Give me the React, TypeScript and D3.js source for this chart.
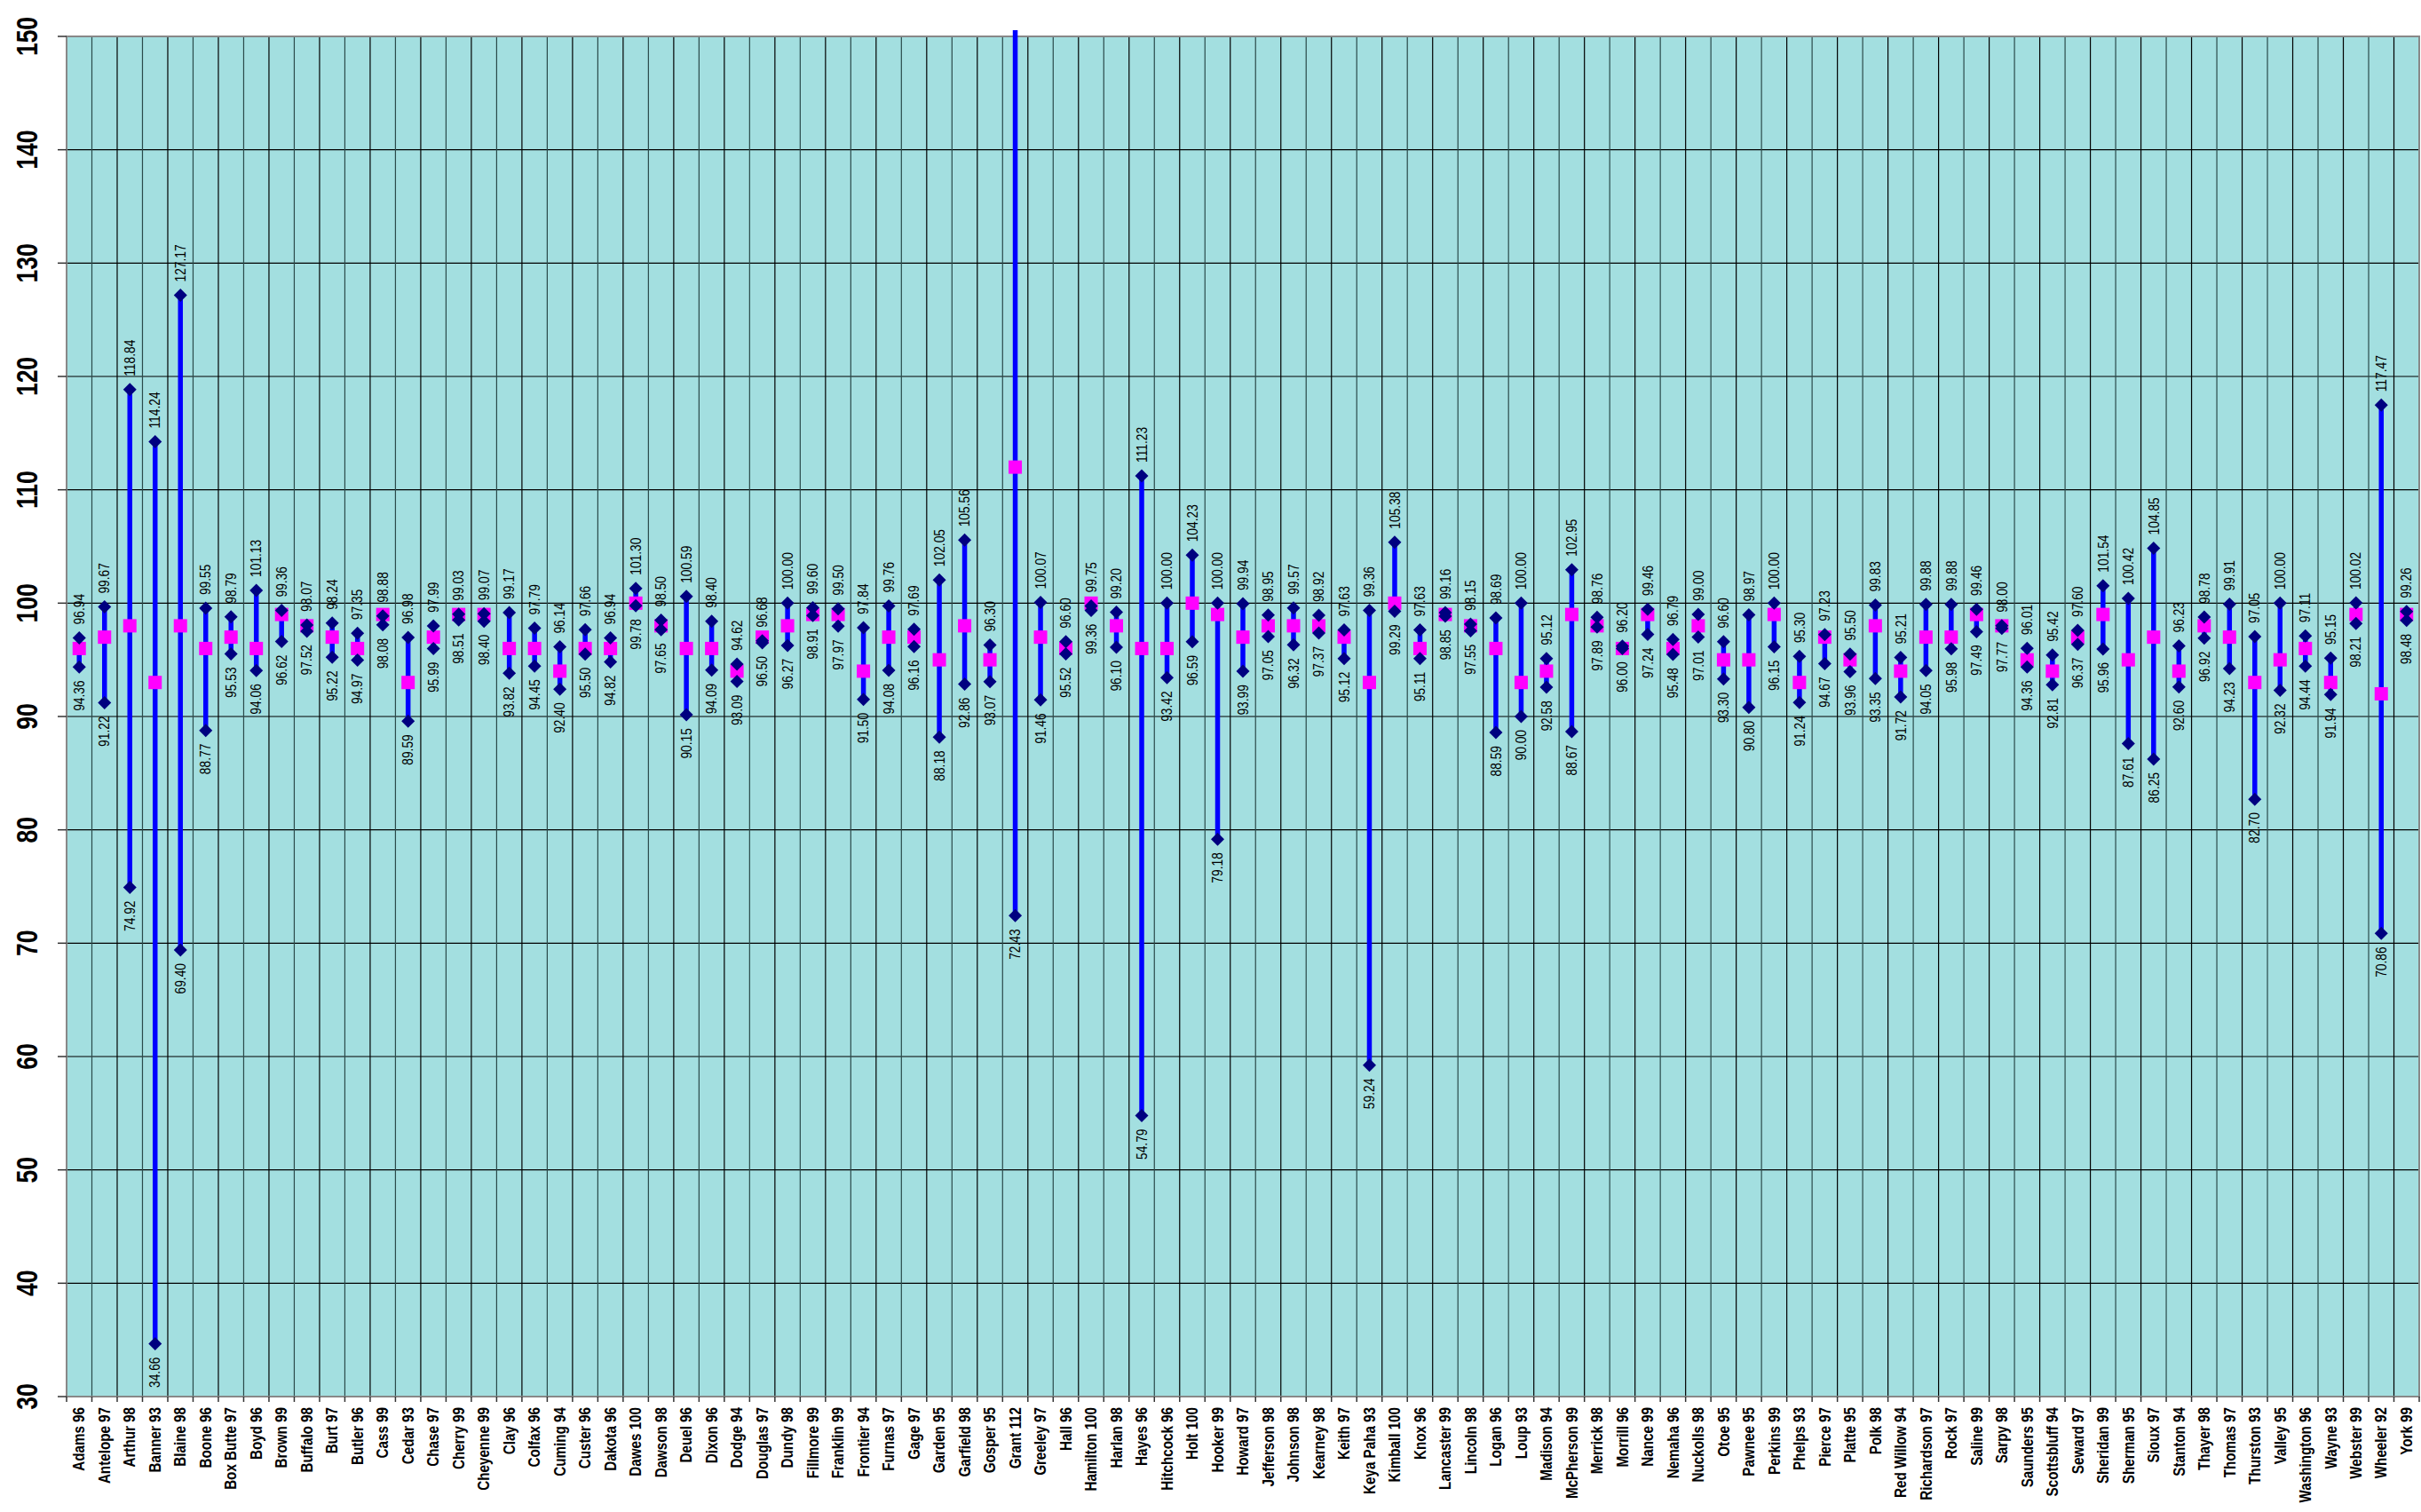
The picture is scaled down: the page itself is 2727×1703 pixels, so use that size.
import React from "react";
import * as d3 from "d3";

const counties = ["Adams","Antelope","Arthur","Banner","Blaine","Boone","Box Butte","Boyd","Brown","Buffalo","Burt","Butler","Cass","Cedar","Chase","Cherry","Cheyenne","Clay","Colfax","Cuming","Custer","Dakota","Dawes","Dawson","Deuel","Dixon","Dodge","Douglas","Dundy","Fillmore","Franklin","Frontier","Furnas","Gage","Garden","Garfield","Gosper","Grant","Greeley","Hall","Hamilton","Harlan","Hayes","Hitchcock","Holt","Hooker","Howard","Jefferson","Johnson","Kearney","Keith","Keya Paha","Kimball","Knox","Lancaster","Lincoln","Logan","Loup","Madison","McPherson","Merrick","Morrill","Nance","Nemaha","Nuckolls","Otoe","Pawnee","Perkins","Phelps","Pierce","Platte","Polk","Red Willow","Richardson","Rock","Saline","Sarpy","Saunders","Scottsbluff","Seward","Sheridan","Sherman","Sioux","Stanton","Thayer","Thomas","Thurston","Valley","Washington","Wayne","Webster","Wheeler","York"];

const meanValues = [96,97,98,93,98,96,97,96,99,98,97,96,99,93,97,99,99,96,96,94,96,96,100,98,96,96,94,97,98,99,99,94,97,97,95,98,95,112,97,96,100,98,96,96,100,99,97,98,98,98,97,93,100,96,99,98,96,93,94,99,98,96,99,96,98,95,95,99,93,97,95,98,94,97,97,99,98,95,94,97,99,95,97,94,98,97,93,95,96,93,99,92,99];

const highValues = [96.94,99.67,118.84,114.24,127.17,99.55,98.79,101.13,99.36,98.07,98.24,97.35,98.88,96.98,97.99,99.03,99.07,99.17,97.79,96.14,97.66,96.94,101.30,98.50,100.59,98.40,94.62,96.68,100.00,99.60,99.50,97.84,99.76,97.69,102.05,105.56,96.30,160.00,100.07,96.60,99.75,99.20,111.23,100.00,104.23,100.00,99.94,98.95,99.57,98.92,97.63,99.36,105.38,97.63,99.16,98.15,98.69,100.00,95.12,102.95,98.76,96.20,99.46,96.79,99.00,96.60,98.97,100.00,95.30,97.23,95.50,99.83,95.21,99.88,99.88,99.46,98.00,96.01,95.42,97.60,101.54,100.42,104.85,96.23,98.78,99.91,97.05,100.00,97.11,95.15,100.02,117.47,99.26];

const lowValues = [94.36,91.22,74.92,34.66,69.40,88.77,95.53,94.06,96.62,97.52,95.22,94.97,98.08,89.59,95.99,98.51,98.40,93.82,94.45,92.40,95.50,94.82,99.78,97.65,90.15,94.09,93.09,96.50,96.27,98.91,97.97,91.50,94.08,96.16,88.18,92.86,93.07,72.43,91.46,95.52,99.36,96.10,54.79,93.42,96.59,79.18,93.99,97.05,96.32,97.37,95.12,59.24,99.29,95.11,98.85,97.55,88.59,90.00,92.58,88.67,97.89,96.00,97.24,95.48,97.01,93.30,90.80,96.15,91.24,94.67,93.96,93.35,91.72,94.05,95.98,97.49,97.77,94.36,92.81,96.37,95.96,87.61,86.25,92.60,96.92,94.23,82.70,92.32,94.44,91.94,98.21,70.86,98.48];

const yTicks = [30, 40, 50, 60, 70, 80, 90, 100, 110, 120, 130, 140, 150];

const W = 2727;
const H = 1703;
const left = 75;
const right = 2725;
const top = 41;
const bottom = 1573;
const FONT = "'Liberation Sans', Arial, Helvetica, sans-serif";

export default function App() {
  const labels = counties.map((c, i) => `${c} ${meanValues[i]}`);
  const x = d3.scaleBand<string>().domain(labels).range([left, right]).padding(0);
  const y = d3.scaleLinear().domain([30, 150]).range([bottom, top]);
  const bw = x.bandwidth();
  const boundaries = d3.range(labels.length + 1).map((i) => left + i * bw);
  const diamond = (cx: number, cy: number, r: number) =>
    `M${cx},${cy - r}L${cx + r},${cy}L${cx},${cy + r}L${cx - r},${cy}Z`;

  return (
    <svg width={W} height={H} style={{ position: "absolute", left: 0, top: 0, background: "#fff" }}>
      <defs>
        <clipPath id="plotclip">
          <rect x={0} y={34} width={W} height={H} />
        </clipPath>
      </defs>
      <rect x={left} y={top} width={right - left} height={bottom - top} fill="#A3DFE0" />
      {yTicks.map((t) => (
        <line key={"h" + t} x1={left} x2={right} y1={y(t)} y2={y(t)} stroke="#000" strokeWidth={1.2} />
      ))}
      {boundaries.map((b, i) => (
        <line key={"v" + i} x1={b} x2={b} y1={top} y2={bottom} stroke={i % 2 ? "#2a4a4a" : "#000"} strokeWidth={1.2} />
      ))}
      <rect x={left} y={top} width={right - left} height={bottom - top} fill="none" stroke="#888" strokeWidth={2} />
      {yTicks.map((t) => (
        <g key={"yt" + t}>
          <line x1={65} x2={left} y1={y(t)} y2={y(t)} stroke="#333" strokeWidth={1.5} />
          <text
            transform={`translate(42,${y(t)}) rotate(-90) scale(1,1.27)`}
            textAnchor="middle"
            fontFamily={FONT}
            fontWeight="bold"
            fontSize={26.5}
            fill="#000"
          >
            {t}
          </text>
        </g>
      ))}
      {boundaries.map((b, i) => (
        <line key={"bt" + i} x1={b} x2={b} y1={bottom} y2={bottom + 6} stroke="#333" strokeWidth={1.5} />
      ))}
      {labels.map((l) => (
        <text
          key={"cl" + l}
          transform={`translate(${(x(l) as number) + bw / 2},1585) rotate(-90) scale(1,1.17)`}
          textAnchor="end"
          dy="0.35em"
          fontFamily={FONT}
          fontWeight="bold"
          fontSize={15.2}
          fill="#000"
        >
          {l}
        </text>
      ))}
      <g clipPath="url(#plotclip)">
        {labels.map((l, i) => {
          const cx = (x(l) as number) + bw / 2;
          return (
            <line key={"r" + i} x1={cx} x2={cx} y1={y(highValues[i])} y2={y(lowValues[i])} stroke="#0000FF" strokeWidth={5.5} />
          );
        })}
      </g>
      {labels.map((l, i) => {
        const cx = (x(l) as number) + bw / 2;
        return (
          <rect key={"m" + i} x={cx - 7.5} y={y(meanValues[i]) - 7.5} width={15} height={15} fill="#FF00FF" />
        );
      })}
      {labels.map((l, i) => {
        const cx = (x(l) as number) + bw / 2;
        return (
          <g key={"d" + i}>
            <path d={diamond(cx, y(highValues[i]), 7.5)} fill="#000080" />
            <path d={diamond(cx, y(lowValues[i]), 7.5)} fill="#000080" />
          </g>
        );
      })}
      {labels.map((l, i) => {
        const cx = (x(l) as number) + bw / 2;
        const hy = y(highValues[i]);
        const ly = y(lowValues[i]);
        return (
          <g key={"lb" + i} fontFamily={FONT} fontSize={13.8} fill="#000">
            {hy > top ? (
              <text transform={`translate(${cx},${hy - 15}) rotate(-90) scale(1,1.18)`} textAnchor="start" dy="0.35em">
                {highValues[i].toFixed(2)}
              </text>
            ) : null}
            <text transform={`translate(${cx},${ly + 15}) rotate(-90) scale(1,1.18)`} textAnchor="end" dy="0.35em">
              {lowValues[i].toFixed(2)}
            </text>
          </g>
        );
      })}
    </svg>
  );
}
